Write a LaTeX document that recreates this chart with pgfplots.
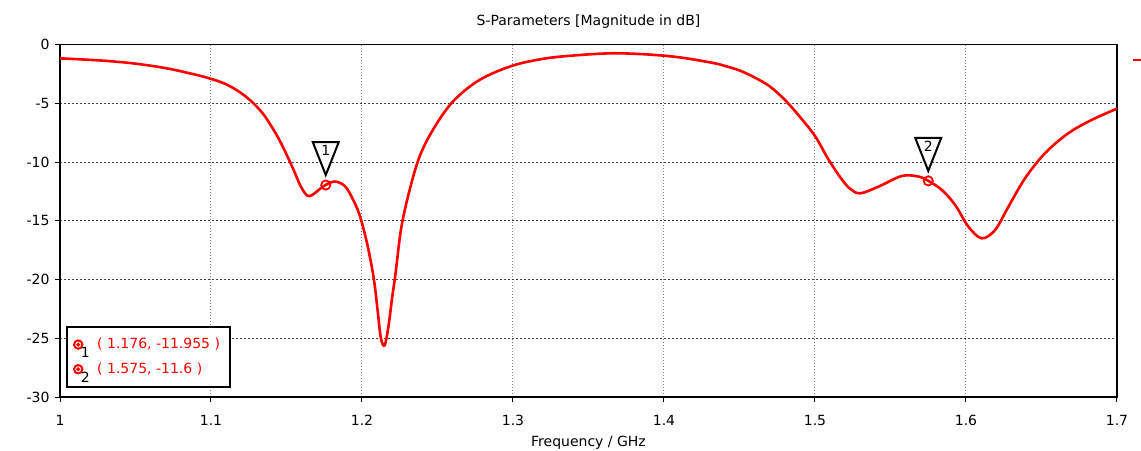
\documentclass[border=0pt]{standalone}
\usepackage{pgfplots}
\pgfplotsset{compat=1.18}
\usepackage{fontspec}
\setmainfont{DejaVu Sans}

\newcommand{\smallfont}{\fontsize{7}{8}\selectfont}

% inverted marker triangle, apex just above the point
\pgfdeclareplotmark{markertri}{%
  \pgfpathmoveto{\pgfqpoint{0pt}{5pt}}%
  \pgfpathlineto{\pgfqpoint{-6.5pt}{21.5pt}}%
  \pgfpathlineto{\pgfqpoint{6.5pt}{21.5pt}}%
  \pgfpathclose
  \pgfusepathqfillstroke}

\pgfplotstableread{
f s11
1.000 -1.17
1.0266 -1.35
1.0486 -1.60
1.0707 -2.02
1.0927 -2.65
1.1000 -2.92
1.1050 -3.12
1.1100 -3.38
1.1150 -3.72
1.1200 -4.13
1.1250 -4.63
1.1300 -5.24
1.1350 -5.98
1.1400 -6.95
1.1450 -8.05
1.1500 -9.35
1.1550 -10.75
1.1588 -11.90
1.1625 -12.70
1.1650 -12.90
1.1680 -12.72
1.1720 -12.30
1.1758 -11.955
1.1800 -11.70
1.1840 -11.70
1.1897 -12.20
1.1963 -13.80
1.2000 -15.20
1.2040 -17.30
1.2079 -20.00
1.2105 -22.80
1.2125 -25.00
1.2150 -25.60
1.2175 -24.00
1.2200 -21.50
1.2221 -19.60
1.2260 -15.60
1.2315 -12.40
1.2381 -9.54
1.2469 -7.27
1.2601 -4.86
1.2778 -3.01
1.2998 -1.79
1.3219 -1.17
1.3439 -0.89
1.3660 -0.74
1.3880 -0.83
1.4100 -1.08
1.4320 -1.55
1.4400 -1.80
1.4500 -2.20
1.4600 -2.80
1.4700 -3.55
1.4800 -4.70
1.4900 -6.15
1.5003 -7.84
1.5091 -9.82
1.5179 -11.50
1.5235 -12.30
1.5300 -12.66
1.5421 -12.09
1.5576 -11.18
1.5686 -11.24
1.5750 -11.60
1.5840 -12.37
1.5928 -13.65
1.6016 -15.50
1.6104 -16.49
1.6193 -15.78
1.6281 -13.80
1.6391 -11.38
1.6523 -9.25
1.6677 -7.55
1.6831 -6.42
1.7000 -5.45
}\sparam

\pgfplotstableread{
f s11 lbl
1.176 -11.955 1
1.575 -11.6 2
}\markers

\begin{document}
\begin{tikzpicture}
\begin{axis}[
  at={(30pt,-22.3pt)}, anchor=north west,
  scale only axis, width=528.5pt, height=176.2pt,
  xmin=1, xmax=1.7, ymin=-30, ymax=0,
  xtick={1,1.1,1.2,1.3,1.4,1.5,1.6,1.7},
  xticklabels={1,1.1,1.2,1.3,1.4,1.5,1.6,1.7},
  ytick={-30,-25,-20,-15,-10,-5,0},
  yticklabels={-30,-25,-20,-15,-10,-5,0},
  tick align=outside, xtick pos=left, ytick pos=left,
  major tick length=2.5pt,
  tick style={black, line width=0.5pt},
  axis line style={black, line width=0.6pt},
  xmajorgrids, ymajorgrids,
  x grid style={gray, line width=0.5pt, dash pattern=on 0.5pt off 1pt},
  y grid style={black!75, line width=0.5pt, dash pattern=on 1pt off 1pt},
  ticklabel style={font=\smallfont},
  xticklabel style={yshift=-3pt},
  yticklabel style={xshift=0.8pt},
  title={S-Parameters [Magnitude in dB]},
  title style={at={(0.5,1)}, anchor=base, yshift=3.7pt, font=\smallfont},
  xlabel={Frequency / GHz},
  xlabel style={at={(0.5,0)}, anchor=base, yshift=-24.6pt, font=\smallfont},
  legend style={at={(0.0057,0.0255)}, anchor=south west, draw=black,
    line width=1pt, fill=white, font=\smallfont, text=red,
    row sep=1.5pt, inner xsep=3pt, inner ysep=3.5pt},
  legend cell align=left,
]
\addplot[red, line width=1.3pt, smooth, tension=0.55, forget plot] table[x=f, y=s11] {\sparam};
\addplot[only marks, forget plot, mark=markertri,
  mark options={fill=white, draw=black, line width=1pt},
  nodes near coords, point meta=explicit symbolic,
  nodes near coords style={anchor=center, yshift=17.3pt, text=black, font=\smallfont}]
  table[x=f, y=s11, meta=lbl] {\markers};
\addplot[only marks, forget plot, mark=o, mark size=2.3pt,
  mark options={red, line width=0.9pt}] table[x=f, y=s11] {\markers};
\addplot[only marks, forget plot, mark=*, mark size=0.35pt,
  mark options={red}] table[x=f, y=s11] {\markers};
\addlegendimage{legend image code/.code={
  \draw[red, line width=1pt] (2pt,0) circle (2.1pt);
  \fill[red] (2pt,0) circle (0.4pt);
  \node[overlay, text=black, font=\smallfont, inner sep=0pt] at (2.8pt,-4.8pt) {1};
  \path (0,0) (9pt,0);}}
\addlegendentry{( 1.176, -11.955 )}
\addlegendimage{legend image code/.code={
  \draw[red, line width=1pt] (2pt,0) circle (2.1pt);
  \fill[red] (2pt,0) circle (0.4pt);
  \node[overlay, text=black, font=\smallfont, inner sep=0pt] at (2.8pt,-4.8pt) {2};
  \path (0,0) (9pt,0);}}
\addlegendentry{( 1.575, -11.6 )}
\end{axis}
% legend line of the curve, cut off by the picture edge as in the reference
\begin{axis}[
  at={(30pt,-22.3pt)}, anchor=north west,
  scale only axis, width=528.5pt, height=176.2pt,
  xmin=1, xmax=1.7, ymin=-30, ymax=0, hide axis,
  legend style={at={(1.008,0.956)}, anchor=west, draw=none, fill=none,
    font=\smallfont},
]
\addlegendimage{red, line width=1.3pt}
\addlegendentry{}
\end{axis}
\pgfresetboundingbox
\path (0,0) rectangle (570.5pt,-225pt);
\end{tikzpicture}
\end{document}
